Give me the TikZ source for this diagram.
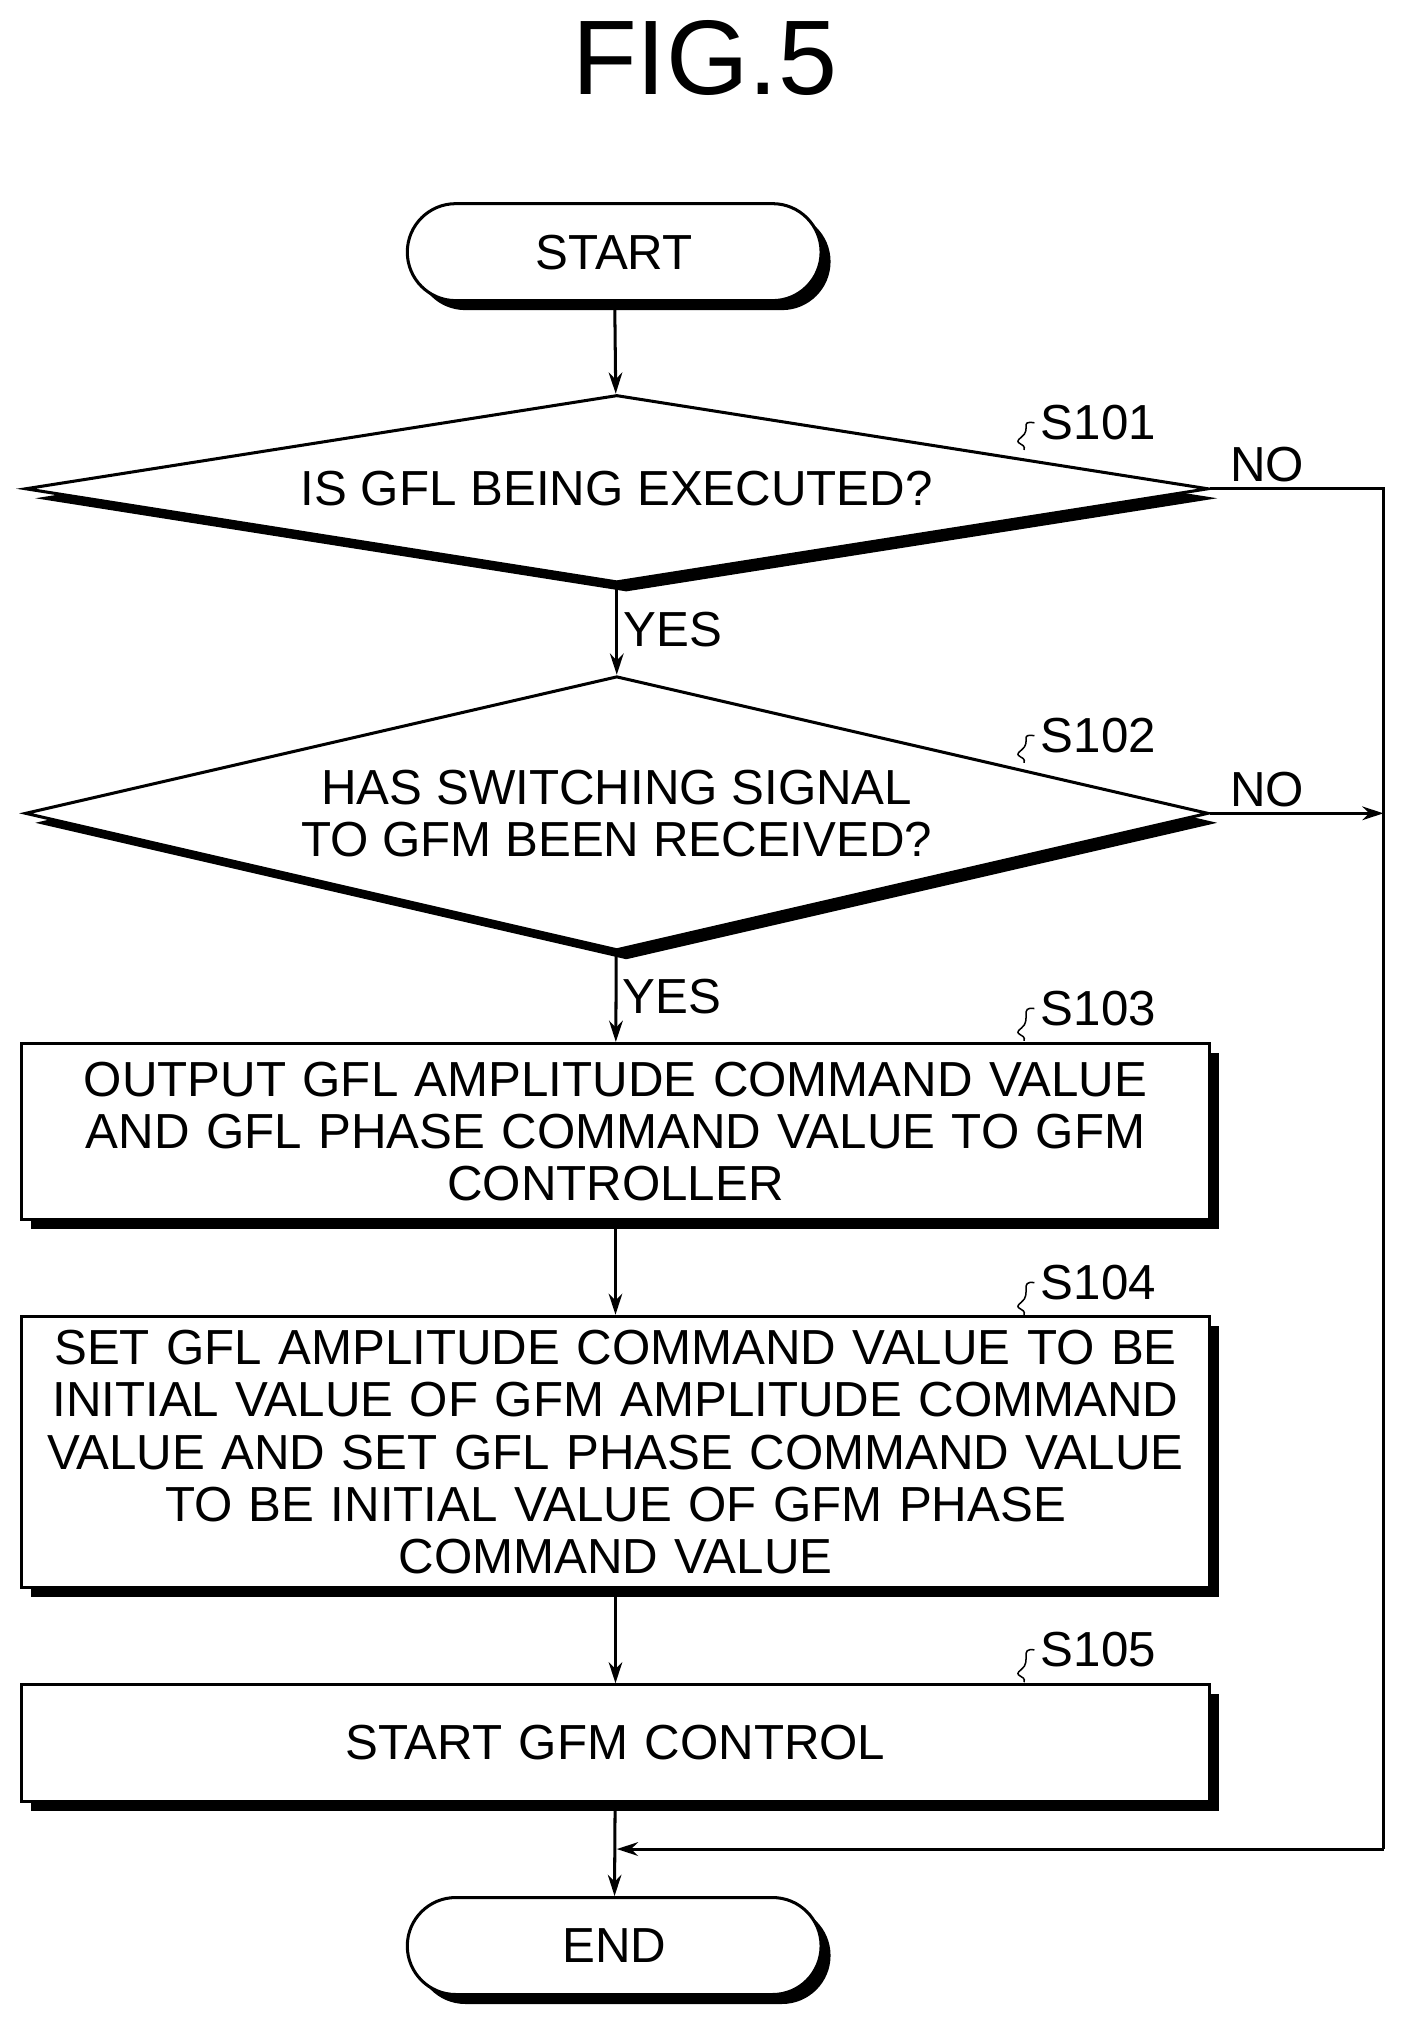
\documentclass[tikz,border=0pt]{standalone}
\usepackage{fontspec}
\setmainfont{Liberation Sans}
\usetikzlibrary{shapes.geometric,shapes.misc,shadows,arrows.meta}

\begin{document}
\begin{tikzpicture}
 [x=0.03cm,y=-0.03cm, line width=2pt, >={Stealth[length=14pt,width=9pt]},
 shadowed/.style={draw,fill=white,drop shadow={shadow xshift=0.22cm,shadow yshift=-0.22cm,opacity=1,fill=black}},
 term/.style={shadowed,rounded rectangle,minimum width=9.6cm,minimum height=2.25cm,inner sep=0pt},
 decision/.style={shadowed,diamond,minimum width=27.45cm,minimum height=#1,inner sep=0pt,align=center},
 process/.style={shadowed,rectangle,minimum width=27.54cm,minimum height=#1,inner sep=0pt,align=center,text width=27.3cm},
 txt/.style={font=\fontsize{32.5}{34.5}\selectfont},
 tag/.style={font=\fontsize{32.5}{34.5}\selectfont,anchor=west}]
\useasboundingbox (0,0) rectangle (1086,1563);
\node[txt] (title) at (545,45) {\fontsize{70}{74}\selectfont FIG.5};

\node[term,txt] (start) at (475,195) {START};
\node[decision=4.35cm,aspect=6.3,txt] (d1) at (477,378) {IS GFL BEING EXECUTED?};
\node[decision=6.36cm,aspect=4.3,txt] (d2) at (477,629) {HAS SWITCHING SIGNAL\\TO GFM BEEN RECEIVED?};
\node[process=4.08cm,txt] (s3) at (476,875) {OUTPUT GFL AMPLITUDE COMMAND VALUE\\AND GFL PHASE COMMAND VALUE TO GFM\\CONTROLLER};
\node[process=6.3cm,txt] (s4) at (476,1123) {SET GFL AMPLITUDE COMMAND VALUE TO BE\\INITIAL VALUE OF GFM AMPLITUDE COMMAND\\VALUE AND SET GFL PHASE COMMAND VALUE\\TO BE INITIAL VALUE OF GFM PHASE\\COMMAND VALUE};
\node[process=2.7cm,txt] (s5) at (476,1348) {START GFM CONTROL};
\node[term,txt] (end) at (475,1505) {END};

% step tags
\node[tag] (t1) at (800,327) {S101};
\node[tag] (t2) at (800,569) {S102};
\node[tag] (t3) at (800,780) {S103};
\node[tag] (t4) at (800,992) {S104};
\node[tag] (t5) at (800,1276) {S105};
\foreach \t/\yy in {t1/348,t2/590,t3/805,t4/1017,t5/1301}
  \draw[line width=1pt] (\t.west) .. controls +(-12,-2) and +(8,-6) .. (790,\yy-10) .. controls +(-8,6) and +(2,-6) .. (792,\yy);

% flow
\coordinate (rt) at (1070,378);
\coordinate (rb) at (1070,1430);
\coordinate (mg) at (477,1430);
\draw[->] (start) -- (d1);
\draw[->] (d1) -- node[right,txt]{YES} (d2);
\draw[->] (d2) -- node[right,txt]{YES} (s3);
\draw[->] (s3) -- (s4);
\draw[->] (s4) -- (s5);
\draw[->] (s5) -- (end);
\draw (d1.east) -- node[above,txt,pos=0.33]{NO} (rt) -- (rb);
\draw[->] (rb) -- (mg);
\draw[->] (d2.east) -- node[above,txt,pos=0.33]{NO} (d2.east -| rt);
\end{tikzpicture}
\end{document}
